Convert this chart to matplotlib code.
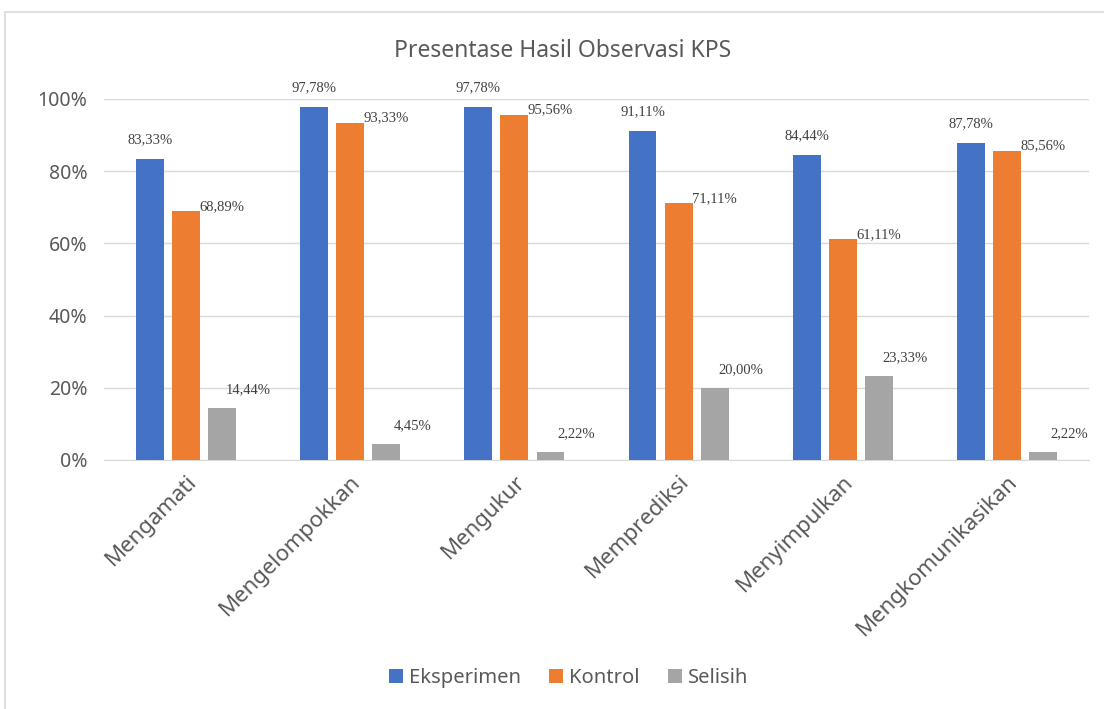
import matplotlib
matplotlib.use('Agg')
import matplotlib.pyplot as plt
import matplotlib.patches as mpatches
import numpy as np

kategori = ['Mengamati', 'Mengelompokkan', 'Mengukur', 'Memprediksi', 'Menyimpulkan', 'Mengkomunikasikan']
eksperimen = [83.33, 97.78, 97.78, 91.11, 84.44, 87.78]
kontrol = [68.89, 93.33, 95.56, 71.11, 61.11, 85.56]
selisih = [14.44, 4.45, 2.22, 20.00, 23.33, 2.22]
y_ticks = [0, 20, 40, 60, 80, 100]

plt.rcParams['font.family'] = ['Noto Sans', 'DejaVu Sans']
abu = '#595959'

fig = plt.figure(figsize=(11.04, 7.09), dpi=100)
ax = fig.add_axes([0.0942, 0.3512, 0.8922, 0.5092])

x = np.arange(len(kategori))
w = 0.17
d = 0.22
seri = [(eksperimen, -d, '#4472C4', 'Eksperimen', (0, 19)),
        (kontrol, 0, '#ED7D31', 'Kontrol', (36, 5)),
        (selisih, d, '#A5A5A5', 'Selisih', (26, 18))]

for vals, off, col, nama, (dx, dy) in seri:
    ax.bar(x + off, vals, w, color=col, label=nama, zorder=3)
    for xi, v in zip(x + off, vals):
        ax.annotate(f'{v:.2f}%'.replace('.', ','), (xi, v), xytext=(dx, dy),
                    textcoords='offset pixels', ha='center', va='center',
                    fontsize=10.5, family='Liberation Serif', color='#404040')

ax.set_xlim(-0.5, len(kategori) - 0.5)
ax.set_ylim(0, 100)
ax.set_yticks(y_ticks)
ax.set_yticklabels([f'{t}%' for t in y_ticks], fontsize=14, color=abu)
ax.set_xticks(x)
ax.set_xticklabels(kategori, rotation=45, ha='right', rotation_mode='anchor',
                   fontsize=16, color=abu)
ax.tick_params(length=0, pad=12)
ax.tick_params(axis='x', pad=8)
ax.grid(axis='y', color='#d9d9d9', linewidth=1, zorder=0)
for s in ['top', 'right', 'left']:
    ax.spines[s].set_visible(False)
ax.spines['bottom'].set_color('#d9d9d9')

fig.text(0.51, 0.928, 'Presentase Hasil Observasi KPS', ha='center', va='center',
         fontsize=16.5, color=abu)

fig.legend(loc='center', bbox_to_anchor=(0.515, 0.044), ncol=3, frameon=False,
           fontsize=14.5, labelcolor=abu, handlelength=0.7, handleheight=0.7,
           handletextpad=0.3, columnspacing=1.4)

fig.patches.append(mpatches.Rectangle((5 / 1104, -0.1), 1.2, 1.1 - 12 / 709,
                                      transform=fig.transFigure, fill=False,
                                      edgecolor='#d9d9d9', linewidth=1.2))

fig.savefig('out.png', dpi=100)
